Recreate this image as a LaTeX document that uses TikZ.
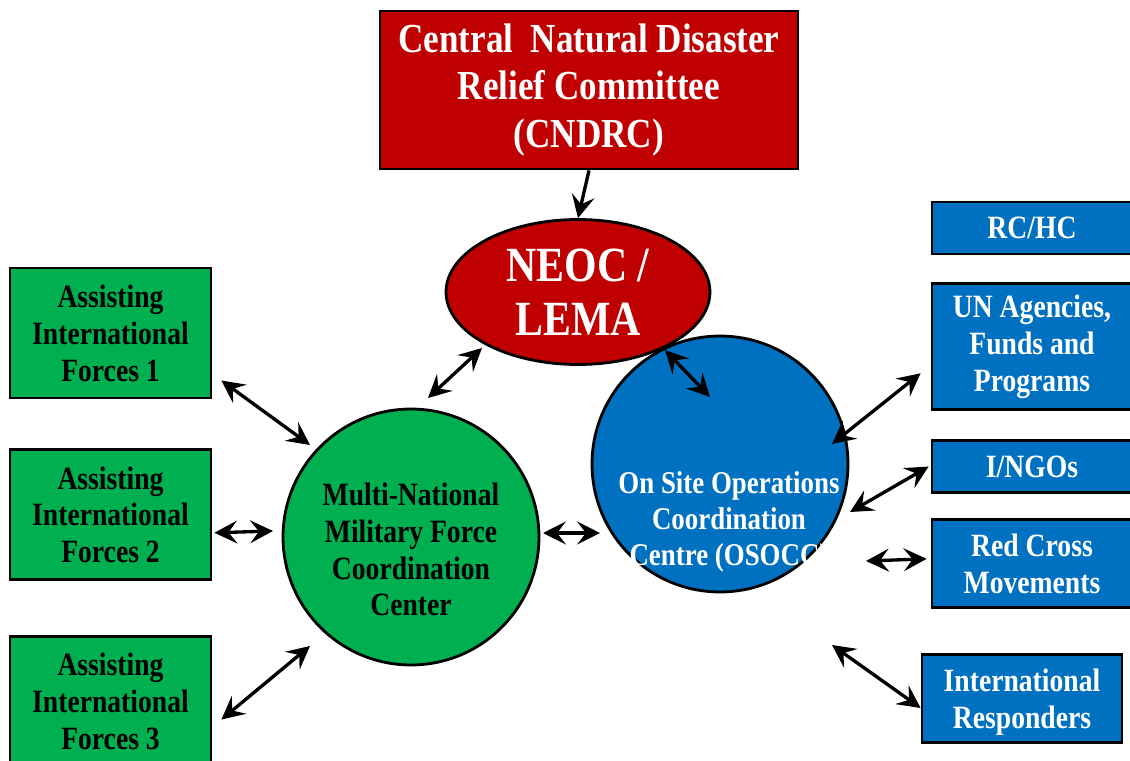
\documentclass[tikz,border=0pt]{standalone}
\usepackage{fontspec}
\setmainfont{Liberation Serif}[FakeStretch=0.85]
\usepackage{tikz}
\usetikzlibrary{arrows.meta,positioning,shapes.geometric}
\definecolor{cndred}{HTML}{C00000}
\definecolor{milgreen}{HTML}{00B050}
\definecolor{unblue}{HTML}{0070C0}
\tikzset{
  gbox/.style  = {draw=black, line width=1.6pt, fill=milgreen, align=center,
                  minimum width=4.02cm, minimum height=2.6cm, inner sep=2pt,
                  font=\fontsize{18.5}{21}\selectfont\bfseries},
  bbox/.style  = {draw=black, line width=1.6pt, fill=unblue, text=white, align=center,
                  minimum width=4cm, inner sep=2pt,
                  font=\fontsize{18.5}{21}\selectfont\bfseries},
  hub/.style   = {circle, draw=black, line width=1.6pt, minimum size=5.12cm, inner sep=0pt},
  hubtxt/.style= {align=center, font=\fontsize{18.5}{21}\selectfont\bfseries},
  ar/.style    = {-{Stealth[length=13pt,width=13pt,inset=5pt]}, line width=1.9pt},
  biar/.style  = {{Stealth[length=13pt,width=13pt,inset=5pt]}-{Stealth[length=13pt,width=13pt,inset=5pt]},
                  line width=1.9pt},
}
\begin{document}
\begin{tikzpicture}[x=0.02cm, y=-0.02cm, node distance=0.54cm]
  \useasboundingbox (0,0) rectangle (1130,761);
  % top committee and NEOC
  \node[draw=black, line width=1.6pt, fill=cndred, text=white, align=center,
        minimum width=8.36cm, minimum height=3.16cm,
        font=\fontsize{23.5}{27}\selectfont\bfseries] (cn) at (589,90)
        {Central~~Natural Disaster\\ Relief Committee\\ (CNDRC)};
  \node[ellipse, draw=black, line width=1.6pt, fill=cndred, text=white, align=center,
        minimum width=5.28cm, minimum height=2.9cm, inner sep=0pt,
        font=\fontsize{28}{30.5}\selectfont\bfseries] (ne) at (578,292) {NEOC /\\ LEMA};
  % the two hubs
  \node[hub, fill=milgreen] (mn) at (411,537) {};
  \node[hubtxt] (mntxt) at ([shift={(0,12.5)}]mn.center)
        {Multi-National\\ Military Force\\ Coordination\\ Center};
  \node[hub, fill=unblue] (os) at (720,464) {};
  \node[hubtxt, text=white, font=\fontsize{18}{20.5}\selectfont\bfseries] (ostxt)
        at ([shift={(9,58)}]os.center)
        {On Site Operations\\ Coordination\\ Centre (OSOCC)};
  % left column
  \node[gbox] (f1) at (110.5,333) {Assisting\\ International\\ Forces 1};
  \node[gbox, below=0.98cm of f1] (f2) {Assisting\\ International\\ Forces 2};
  \node[gbox, below=1.08cm of f2] (f3) {Assisting\\ International\\ Forces 3};
  % right column
  \node[bbox, minimum height=1.04cm] (rc) at (1032,228) {RC/HC};
  \node[bbox, minimum height=2.52cm, below=of rc] (un) {UN Agencies,\\ Funds and\\ Programs};
  \node[bbox, minimum height=1.04cm, below=0.56cm of un] (ng) {I/NGOs};
  \node[bbox, minimum height=1.76cm, below=0.48cm of ng, text depth=-3pt] (rx) {Red Cross\\ Movements};
  \node[bbox, minimum height=1.76cm, text depth=-5pt] (ir) at (1022,698.5) {International\\ Responders};
  % connectors
  \draw[ar] (cn.south) -- (ne.north);
  \draw[biar] ([shift={(-96,56)}]ne.center) -- ([shift={(17,-139)}]mn.center);
  \draw[biar] ([shift={(87,58)}]ne.center) -- ([shift={(-10,-67)}]os.center);
  \draw[biar] ([shift={(132,-4)}]mn.center) -- ([shift={(-120,69)}]os.center);
  \draw[biar] ([shift={(9,47.5)}]f1.east) -- ([shift={(-101,-92)}]mn.center);
  \draw[biar] ([shift={(2,18)}]f2.east) -- ([shift={(-138,-6)}]mn.center);
  \draw[biar] ([shift={(9,18)}]f3.east) -- ([shift={(-101,109)}]mn.center);
  \draw[biar] ([shift={(112,-20)}]os.center) -- ([shift={(-10,26.5)}]un.west);
  \draw[biar] ([shift={(130,48)}]os.center) -- ([shift={(-2,0)}]ng.west);
  \draw[biar] ([shift={(146,97)}]os.center) -- ([shift={(-4,-4.5)}]rx.west);
  \draw[biar] ([shift={(112,181)}]os.center) -- ([shift={(0,9.5)}]ir.west);
\end{tikzpicture}
\end{document}
